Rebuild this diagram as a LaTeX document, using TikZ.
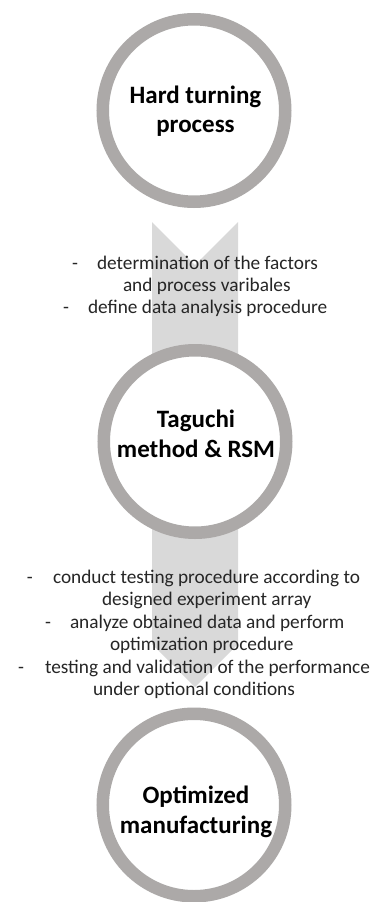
\documentclass[tikz,border=0pt]{standalone}
\usepackage{fontspec}
\setmainfont{Carlito}
\definecolor{ringgray}{RGB}{172,169,168}
\definecolor{arrowgray}{RGB}{217,217,217}
\definecolor{txtgray}{RGB}{38,38,38}
\begin{document}
\begin{tikzpicture}[x=1pt,y=-1pt,
  ring/.style={circle,draw=ringgray,line width=12.5pt,fill=white,minimum size=182.5pt,inner sep=0pt},
  title/.style={anchor=base,inner sep=0pt,outer sep=0pt,font=\fontsize{25}{29.5}\selectfont\bfseries},
  chevron/.style={fill=arrowgray},
  note/.style={anchor=base west,inner sep=0pt,outer sep=0pt,text=txtgray,font=\fontsize{19.3}{22}\selectfont}]
\useasboundingbox (0,0) rectangle (376,902);
\fill[white] (0,0) rectangle (376,902);
% chevrons
\fill[chevron] (152,222) -- (195,265) -- (238,222) -- (238,430) -- (195,473) -- (152,430) -- cycle;
\fill[chevron] (152,460) -- (195,503) -- (238,460) -- (238,644) -- (195,687) -- (152,644) -- cycle;
% circles
\node[ring] (c1) at (194,110.5) {};
\node[ring] (c2) at (195,441.5) {};
\node[ring] (c3) at (194,805) {};
% circle titles
\node[title] (c1a) at (195.5,103) {Hard turning};
\node[title] (c1b) at (195.5,132) {process};
\node[title] (c2a) at (196,427) {Taguchi};
\node[title] (c2b) at (196,457) {method \& RSM};
\node[title] (c3a) at (196,803) {Optimized};
\node[title] (c3b) at (196,833) {manufacturing};
% first note block
\node[note] (d1) at (72,269) {-};
\node[note] (n1) at (97,269) {determination of the factors};
\node[note] (n2) at (123,291) {and process varibales};
\node[note] (d2) at (63,313) {-};
\node[note] (n3) at (88,313) {define data analysis procedure};
% second note block
\node[note] (d3) at (27,583) {-};
\node[note] (m1) at (53,583) {conduct testing procedure according to};
\node[note] (m2) at (102,605.5) {designed experiment array};
\node[note] (d4) at (45,628) {-};
\node[note] (m3) at (70,628) {analyze obtained data and perform};
\node[note] (m4) at (110,650.5) {optimization procedure};
\node[note] (d5) at (18,673) {-};
\node[note] (m5) at (45,673) {testing and validation of the performance};
\node[note] (m6) at (93,695.5) {under optional conditions};
\end{tikzpicture}
\end{document}
